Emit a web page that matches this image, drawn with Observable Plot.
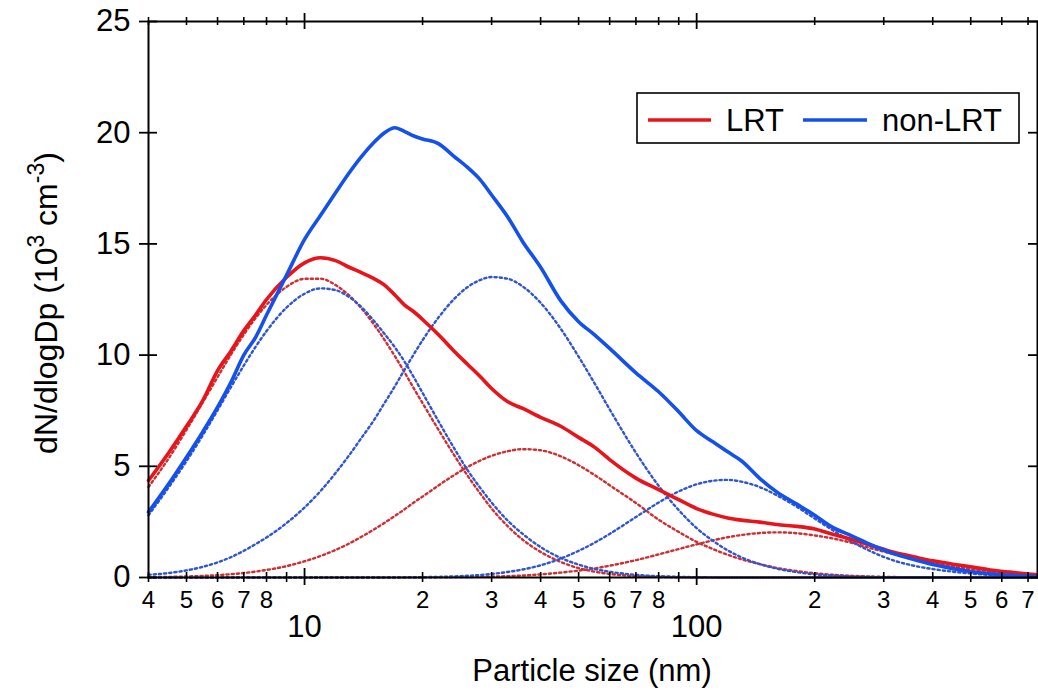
<!DOCTYPE html>
<html>
<head>
<meta charset="utf-8">
<script src="https://cdn.jsdelivr.net/npm/d3@7"></script>
<script src="https://cdn.jsdelivr.net/npm/@observablehq/plot@0.6"></script>
<style>
  body { margin: 0; background: #fff; }
  svg { display: block; }
</style>
</head>
<body>
<div id="chart"></div>
<script>
// Particle diameters (nm)
const sizes = [4, 4.5, 5, 5.5, 6, 6.5, 7, 7.5, 8, 9,
  10, 11, 12, 13, 14, 15, 16, 17, 18, 19,
  20, 22, 24, 26, 28, 30, 33, 36, 40, 45,
  50, 55, 60, 70, 80, 90, 100, 110, 120, 130,
  145, 160, 180, 200, 220, 250, 280, 320, 360, 400,
  450, 500, 560, 630, 700, 740];

// LRT measured size distribution (10^3 cm^-3)
const lrt = [4.36, 5.6, 6.8, 7.95, 9.3, 10.2, 11.1, 11.8, 12.5, 13.5,
  14.15, 14.38, 14.25, 13.95, 13.7, 13.45, 13.15, 12.7, 12.25, 11.95,
  11.6, 10.9, 10.2, 9.6, 9.05, 8.5, 7.9, 7.6, 7.2, 6.8,
  6.3, 5.85, 5.3, 4.47, 3.95, 3.5, 3.1, 2.85, 2.68, 2.58,
  2.49, 2.38, 2.3, 2.18, 1.97, 1.7, 1.43, 1.12, 0.92, 0.75,
  0.6, 0.48, 0.34, 0.24, 0.16, 0.12];

// LRT fitted modes
const lrtMode1 = [4.07, 5.35, 6.64, 7.87, 9.01, 10.04, 10.92, 11.66, 12.26, 13.07,
  13.43, 13.43, 13.15, 12.68, 12.08, 11.4, 10.68, 9.95, 9.22, 8.5,
  7.84, 6.62, 5.54, 4.6, 3.8, 3.1, 2.3, 1.7, 1.15, 0.7,
  0.42, 0.26, 0.16, 0.06, 0.025, 0.01, 0, 0, 0, 0,
  0, 0, 0, 0, 0, 0, 0, 0, 0, 0,
  0, 0, 0, 0, 0, 0];
const lrtMode2 = [0.015, 0.027, 0.046, 0.072, 0.106, 0.15, 0.2, 0.266, 0.34, 0.51,
  0.73, 0.97, 1.24, 1.53, 1.84, 2.15, 2.46, 2.77, 3.07, 3.37,
  3.64, 4.15, 4.59, 4.96, 5.25, 5.47, 5.68, 5.77, 5.72, 5.45,
  5.05, 4.6, 4.15, 3.35, 2.6, 2.05, 1.6, 1.28, 1.02, 0.82,
  0.6, 0.43, 0.29, 0.19, 0.13, 0.073, 0.043, 0.02, 0.01, 0.005,
  0, 0, 0, 0, 0, 0];
const lrtMode3 = [0, 0, 0, 0, 0, 0, 0, 0, 0, 0,
  0, 0, 0, 0, 0.001, 0.001, 0.002, 0.003, 0.004, 0.005,
  0.006, 0.01, 0.016, 0.022, 0.03, 0.04, 0.06, 0.09, 0.14, 0.22,
  0.31, 0.41, 0.53, 0.78, 1.04, 1.28, 1.49, 1.67, 1.81, 1.91,
  2.0, 2.03, 1.99, 1.89, 1.77, 1.55, 1.3, 1.04, 0.83, 0.66,
  0.5, 0.38, 0.27, 0.19, 0.14, 0.12];

// non-LRT measured size distribution
const nonLrt = [2.94, 4.2, 5.41, 6.55, 7.66, 8.8, 10.0, 10.8, 11.8, 13.6,
  15.2, 16.3, 17.3, 18.2, 18.95, 19.55, 20.0, 20.22, 20.05, 19.85,
  19.72, 19.5, 18.95, 18.45, 17.9, 17.2, 16.2, 15.1, 13.95, 12.45,
  11.5, 10.9, 10.3, 9.2, 8.35, 7.45, 6.6, 6.1, 5.65, 5.25,
  4.45, 3.85, 3.3, 2.8, 2.3, 1.85, 1.45, 1.05, 0.8, 0.58,
  0.4, 0.27, 0.17, 0.1, 0.07, 0.05];

// non-LRT fitted modes
const nonLrtMode1 = [2.8, 4.05, 5.23, 6.39, 7.52, 8.58, 9.53, 10.37, 11.08, 12.14,
  12.76, 13.0, 12.92, 12.61, 12.14, 11.56, 10.95, 10.35, 9.7, 9.0,
  8.3, 7.0, 5.85, 4.85, 4.05, 3.37, 2.55, 1.96, 1.37, 0.88,
  0.58, 0.38, 0.26, 0.12, 0.06, 0.03, 0.013, 0.005, 0, 0,
  0, 0, 0, 0, 0, 0, 0, 0, 0, 0,
  0, 0, 0, 0, 0, 0];
const nonLrtMode2 = [0.12, 0.2, 0.32, 0.48, 0.68, 0.92, 1.2, 1.5, 1.8, 2.45,
  3.15, 3.9, 4.7, 5.5, 6.3, 7.05, 7.85, 8.6, 9.35, 10.04,
  10.67, 11.71, 12.5, 13.05, 13.37, 13.51, 13.43, 13.09, 12.35, 11.19,
  9.93, 8.71, 7.56, 5.61, 4.12, 3.03, 2.22, 1.65, 1.22, 0.91,
  0.6, 0.4, 0.24, 0.14, 0.09, 0.045, 0.02, 0.01, 0, 0,
  0, 0, 0, 0, 0, 0];
const nonLrtMode3 = [0, 0, 0, 0, 0, 0, 0, 0, 0, 0,
  0, 0, 0, 0, 0, 0.001, 0.002, 0.0035, 0.006, 0.01,
  0.016, 0.029, 0.049, 0.076, 0.11, 0.158, 0.25, 0.36, 0.55, 0.85,
  1.2, 1.57, 1.96, 2.72, 3.37, 3.87, 4.19, 4.35, 4.39, 4.31,
  4.06, 3.7, 3.18, 2.65, 2.18, 1.59, 1.15, 0.75, 0.52, 0.38,
  0.26, 0.18, 0.11, 0.06, 0.03, 0.02];

// Axis ticks and labels
const xMajorTicks = [10, 100];
const xMajorLabels = ["10", "100"];
const xMinorTicks = [4, 5, 6, 7, 8, 9, 20, 30, 40, 50, 60, 70, 80, 90, 200, 300, 400, 500, 600, 700];
const xMinorLabels = ["4", "5", "6", "7", "8", "", "2", "3", "4", "5", "6", "7", "8", "", "2", "3", "4", "5", "6", "7"];
const yTicks = [0, 5, 10, 15, 20, 25];
const yTickLabels = ["0", "5", "10", "15", "20", "25"];
const xDomain = [4, 740];
const yDomain = [0, 25];

const seriesNames = ["LRT", "non-LRT"];
const xTitle = "Particle size (nm)";

const RED = "#e8141c", BLUE = "#1450eb";
const RED_FIT = "#cf2f33", BLUE_FIT = "#2f55cf";
const FONT = "'Liberation Sans', Arial, sans-serif";

const toRows = (vals) => sizes.map((s, i) => ({size: s, value: vals[i]})).filter(d => d.value != null);
const minorRows = xMinorTicks.map((t, i) => ({t, label: xMinorLabels[i]}));
const majorRows = xMajorTicks.map((t, i) => ({t, label: xMajorLabels[i]}));
const yRows = yTicks.map((t, i) => ({t, label: yTickLabels[i]}));

const dotted = (vals, color) => Plot.line(toRows(vals), {
  x: "size", y: "value", stroke: color, strokeWidth: 2.4,
  strokeDasharray: "2.2,3", curve: "monotone-x"
});
const solid = (vals, color) => Plot.line(toRows(vals), {
  x: "size", y: "value", stroke: color, strokeWidth: 3.6, curve: "monotone-x"
});

const x0 = xDomain[0], x1 = xDomain[1], y0 = yDomain[0], y1 = yDomain[1];

const chart = Plot.plot({
  width: 1038,
  height: 693,
  marginLeft: 148,
  marginRight: 1,
  marginTop: 21,
  marginBottom: 116,
  x: {type: "log", domain: xDomain, label: null, axis: null},
  y: {domain: yDomain, label: null, axis: null},
  style: {fontFamily: FONT, color: "black", background: "white", overflow: "visible"},
  marks: [
    dotted(lrtMode1, RED_FIT),
    dotted(lrtMode2, RED_FIT),
    dotted(lrtMode3, RED_FIT),
    dotted(nonLrtMode1, BLUE_FIT),
    dotted(nonLrtMode2, BLUE_FIT),
    dotted(nonLrtMode3, BLUE_FIT),
    solid(lrt, RED),
    solid(nonLrt, BLUE),
    Plot.frame({stroke: "black", strokeWidth: 2}),
    // bottom ticks
    Plot.ruleX(xMinorTicks, {x: d => d, y1: y0, y2: y0, insetTop: -5, insetBottom: -5, stroke: "black", strokeWidth: 1.6}),
    Plot.ruleX(xMajorTicks, {x: d => d, y1: y0, y2: y0, insetTop: -9, insetBottom: -8, stroke: "black", strokeWidth: 1.8}),
    // top ticks
    Plot.ruleX(xMinorTicks, {x: d => d, y1: y1, y2: y1, insetTop: -4, insetBottom: -4, stroke: "black", strokeWidth: 1.6}),
    Plot.ruleX(xMajorTicks, {x: d => d, y1: y1, y2: y1, insetTop: -8, insetBottom: -8, stroke: "black", strokeWidth: 1.8}),
    // left & right ticks
    Plot.ruleY(yTicks, {y: d => d, x1: x0, x2: x0, insetLeft: -9, insetRight: -9, stroke: "black", strokeWidth: 1.8}),
    Plot.ruleY(yTicks, {y: d => d, x1: x1, x2: x1, insetLeft: -9, insetRight: -9, stroke: "black", strokeWidth: 1.8}),
    // tick labels
    Plot.text(minorRows, {x: "t", text: "label", frameAnchor: "bottom", lineAnchor: "top", dy: 13,
      fontSize: 24, fill: "black", textAnchor: "middle"}),
    Plot.text(majorRows, {x: "t", text: "label", frameAnchor: "bottom", lineAnchor: "top", dy: 37,
      fontSize: 31, fill: "black", textAnchor: "middle"}),
    Plot.text(yRows, {y: "t", text: "label", frameAnchor: "left", textAnchor: "end", dx: -18,
      fontSize: 31, fill: "black"})
  ]
});

document.getElementById("chart").appendChild(chart);

// Titles and legend
const svg = d3.select(chart);

svg.append("text")
  .attr("x", 592).attr("y", 681)
  .attr("text-anchor", "middle")
  .attr("font-family", FONT).attr("font-size", 31).attr("fill", "black")
  .text(xTitle);

const yt = svg.append("text")
  .attr("transform", "translate(57,303) rotate(-90)")
  .attr("text-anchor", "middle")
  .attr("font-family", FONT).attr("font-size", 32).attr("fill", "black");
yt.append("tspan").text("dN/dlogDp (10");
yt.append("tspan").attr("font-size", 23).attr("dy", -13).text("3");
yt.append("tspan").attr("dy", 13).text(" cm");
yt.append("tspan").attr("font-size", 23).attr("dy", -13).text("-3");
yt.append("tspan").attr("dy", 13).text(")");

const lg = svg.append("g");
lg.append("rect").attr("x", 637).attr("y", 93).attr("width", 382).attr("height", 50)
  .attr("fill", "white").attr("stroke", "black").attr("stroke-width", 1.6);
lg.append("line").attr("x1", 648).attr("x2", 711).attr("y1", 120).attr("y2", 120)
  .attr("stroke", RED).attr("stroke-width", 3.6);
lg.append("text").attr("x", 726).attr("y", 131).attr("text-anchor", "start")
  .attr("font-family", FONT).attr("font-size", 31).attr("fill", "black").text(seriesNames[0]);
lg.append("line").attr("x1", 803).attr("x2", 867).attr("y1", 120).attr("y2", 120)
  .attr("stroke", BLUE).attr("stroke-width", 3.6);
lg.append("text").attr("x", 882).attr("y", 131).attr("text-anchor", "start")
  .attr("font-family", FONT).attr("font-size", 31).attr("fill", "black").text(seriesNames[1]);
</script>
</body>
</html>
